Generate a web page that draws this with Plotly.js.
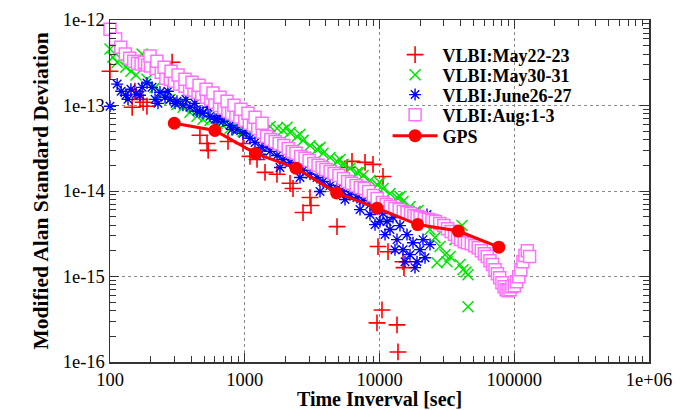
<!DOCTYPE html>
<html><head><meta charset="utf-8">
<script src="https://cdn.plot.ly/plotly-3.0.1.min.js"></script>
<style>html,body{margin:0;padding:0;background:#fff;}#chart{width:693px;height:410px;}</style>
</head><body><div id="chart"></div>
<script>
// VLBI May22-23 (red +)
const redX = [100,146,153,167,176,188,289,279,465,525,535,751,971,1094,1233,1414,1735,2167,2281,3050,3100,2706,4838,5739,6251,7806,8950,10617,9748,11566,14940,15200,10437,9581,13486,13718];
const redY = [2.52e-13,9.53e-14,1.47e-13,1.18e-13,1.09e-13,9.8e-14,3.21e-13,2.59e-13,4.48e-14,3.6e-14,2.99e-14,3.8e-14,3.6e-14,2.54e-14,2.34e-14,1.65e-14,1.57e-14,1.23e-14,1.07e-14,8.38e-15,6.76e-15,5.6e-15,3.83e-15,1.88e-14,2.22e-14,2.16e-14,2.05e-14,1.48e-14,2.24e-15,1.95e-15,1.49e-15,1.27e-15,4.06e-16,2.87e-16,2.72e-16,1.31e-16];

// VLBI May30-31 (green x)
const greenX = [100,105,113,121,131,143,156,173,188,216,247,279,314,348,392,442,490,495,552,622,690,739,777,876,971,1094,1192,1343,1540,1735,1923,2167,2443,2706,3050,3438,3808,4293,4838,5360,6041,6808,7545,8503,9581,10617,11966,13486,14940,16837,18340,19985,21766,23706,25818,28119,26716,30624,31690,33364,36335,40945,39574,41660,43850,45380,45380,2058,2570,3618,5092,7166,10086,14190,19310];
const greenY = [4.57e-13,3.68e-13,3.21e-13,3.49e-13,2.81e-13,2.52e-13,2.27e-13,3.99e-13,2.03e-13,1.63e-13,1.36e-13,1.18e-13,1.03e-13,9.53e-14,8.33e-14,7.48e-14,6.9e-14,1.55e-13,6.7e-14,6.19e-14,5.86e-14,1.09e-13,5.41e-14,5.13e-14,4.98e-14,5.26e-14,6.53e-14,6.19e-14,5.68e-14,5.41e-14,5.13e-14,4.85e-14,4.35e-14,3.91e-14,3.41e-14,3.07e-14,2.76e-14,2.47e-14,2.22e-14,2.05e-14,1.84e-14,1.65e-14,1.52e-14,1.33e-14,1.19e-14,1.07e-14,9.35e-15,8.38e-15,7.53e-15,6.58e-15,5.74e-15,4.89e-15,4.16e-15,3.54e-15,2.85e-15,2.24e-15,1.45e-15,1.80e-15,1.49e-15,1.71e-15,2.70e-15,3.94e-15,1.38e-15,1.2e-15,1.13e-15,1.05e-15,4.42e-16,5.56e-14,4.6e-14,3.24e-14,2.34e-14,1.69e-14,1.26e-14,8.6e-15,5.9e-15];

// VLBI June26-27 (blue *)
const blueX = [100,113,121,131,143,156,173,188,216,235,256,279,314,348,392,442,490,552,622,690,777,876,971,1094,1192,1343,1540,1735,1923,2167,2443,2706,3050,3438,3808,4293,4838,5360,6041,6808,7545,8503,9581,10617,11370,11966,12600,13486,14190,14940,16000,16837,17730,18980,19985,21030,22520,23706,21766,18340,15460,13030,10990,10086,3618,5546,7166,2570,1826,1298,9262,8503,136,167,205,227,269,304,366,427,465,534,601,678,804,1022,1438];
const blueY = [9.8e-14,1.78e-13,1.47e-13,1.32e-13,1.55e-13,1.36e-13,1.63e-13,1.83e-13,1.18e-13,1.43e-13,1.25e-13,1.18e-13,1.12e-13,1.01e-13,9.53e-14,8.56e-14,8.1e-14,7.48e-14,6.9e-14,6.53e-14,5.86e-14,5.26e-14,4.72e-14,4.14e-14,3.7e-14,3.24e-14,2.91e-14,2.6e-14,2.34e-14,2.16e-14,1.96e-14,1.75e-14,1.57e-14,1.44e-14,1.29e-14,1.16e-14,1.07e-14,9.87e-15,9.1e-15,8.38e-15,7.74e-15,6.94e-15,6.23e-15,5.44e-15,4.39e-15,3.54e-15,4.89e-15,2.70e-15,3.94e-15,2.06e-15,3.09e-15,1.80e-15,2.48e-15,1.49e-15,2.06e-15,2.70e-15,5.3e-15,2.36e-15,1.66e-15,1.27e-15,1.49e-15,2.06e-15,3.09e-15,4.39e-15,9.87e-15,7.94e-15,6.06e-15,1.44e-14,1.88e-14,2.69e-14,4.04e-15,5.3e-15,1.18e-13,1.32e-13,1.63e-13,1.06e-13,1.47e-13,1.06e-13,1.18e-13,1.06e-13,8.56e-14,9.53e-14,6.9e-14,7.68e-14,5.26e-14,4.98e-14,3.41e-14];

// VLBI Aug:1-3 (pink squares)
const pinkX = [100,110,120,130,140,150,160,170,180,190,200,220,240,260,280,300,330,360,390,420,450,480,520,560,600,650,700,750,800,860,920,1000,1080,1160,1250,1350,1450,1560,1680,1800,1950,2100,2250,2400,2600,2800,3000,3250,3500,3750,4000,4300,4600,5000,5400,5800,6200,6700,7200,7700,8300,9000,9600,10500,11200,12000,13000,14000,15000,16000,17000,18000,19000,20000,21500,23000,24500,26000,28000,30000,32000,34000,36000,38000,40000,42500,45000,48000,51000,54000,57000,60000,63000,66000,69000,72000,75000,78000,81000,84000,87000,90000,93000,96000,100000,104000,108000,112000,116000,120000,125000,130000,198,223,252,284,320,360,406,458,516,581,655,739,832,938,1057,1192,1343];
const pinkY = [7.8e-13,6.0e-13,4.8e-13,4.0e-13,3.58e-13,3.3e-13,3.13e-13,3.05e-13,3.21e-13,2.97e-13,2.9e-13,2.7e-13,2.45e-13,2.09e-13,2.03e-13,1.92e-13,1.78e-13,1.68e-13,1.55e-13,1.51e-13,1.43e-13,1.36e-13,1.25e-13,1.18e-13,1.09e-13,1.0e-13,9.28e-14,8.56e-14,8.1e-14,7.68e-14,7.27e-14,6.7e-14,6.2e-14,5.86e-14,5.4e-14,4.85e-14,4.35e-14,4.0e-14,3.8e-14,3.6e-14,3.41e-14,3.15e-14,2.9e-14,2.76e-14,2.54e-14,2.41e-14,2.28e-14,2.1e-14,2.0e-14,1.88e-14,1.79e-14,1.69e-14,1.6e-14,1.52e-14,1.40e-14,1.29e-14,1.23e-14,1.16e-14,1.1e-14,1.07e-14,9.87e-15,8.86e-15,8.17e-15,7.33e-15,6.94e-15,6.58e-15,6.23e-15,6.06e-15,5.74e-15,5.59e-15,5.44e-15,5.16e-15,5.02e-15,4.89e-15,4.75e-15,4.63e-15,4.51e-15,4.39e-15,4.16e-15,3.94e-15,3.63e-15,3.35e-15,3.09e-15,2.85e-15,2.70e-15,2.55e-15,2.48e-15,2.42e-15,2.29e-15,2.17e-15,2.0e-15,1.85e-15,1.71e-15,1.53e-15,1.38e-15,1.2e-15,1.08e-15,9.65e-16,8.45e-16,7.58e-16,6.99e-16,6.81e-16,7.0e-16,7.58e-16,7.8e-16,8.68e-16,9.9e-16,1.2e-15,1.49e-15,1.76e-15,2.0e-15,1.71e-15,3.78e-13,3.30e-13,2.81e-13,2.52e-13,2.27e-13,2.03e-13,1.87e-13,1.73e-13,1.55e-13,1.40e-13,1.25e-13,1.12e-13,1.01e-13,9.04e-14,8.1e-14,7.27e-14,6.2e-14];

// GPS
const gpsX = [300,600,1200,2400,4800,9600,19200,38400,76800];
const gpsY = [6.2e-14,5.1e-14,2.75e-14,1.85e-14,9.5e-15,6.3e-15,4.05e-15,3.4e-15,2.2e-15];

// tick labels
const xTickVals = [100,1000,10000,100000,1000000];
const xTickText = ['100','1000','10000','100000','1e+06'];
const yTickVals = [1e-16,1e-15,1e-14,1e-13,1e-12];
const yTickText = ['1e-16','1e-15','1e-14','1e-13','1e-12'];

function minorTicks(lo, hi){
  const out=[];
  for(let e=lo;e<hi;e++){ for(let m=2;m<=9;m++){ out.push(m*Math.pow(10,e)); } }
  return out;
}

const FONT = 'Liberation Serif, Times New Roman, serif';

const traces = [
  {x: redX, y: redY, name: 'VLBI:May22-23', legend: 'legend', mode: 'markers', type: 'scatter', cliponaxis: false,
   marker: {symbol: 'cross-thin-open', size: 12, color: '#ff0000', line: {color: '#ff0000', width: 1.6}}},
  {x: greenX, y: greenY, name: 'VLBI:May30-31', legend: 'legend2', mode: 'markers', type: 'scatter', cliponaxis: false,
   marker: {symbol: 'x-thin-open', size: 11, color: '#00e600', line: {color: '#00e600', width: 1.5}}},
  {x: blueX, y: blueY, name: 'VLBI:June26-27', legend: 'legend3', mode: 'markers', type: 'scatter', cliponaxis: false,
   marker: {symbol: 'asterisk-open', size: 10, color: '#0000ff', line: {color: '#0000ff', width: 1.4}}},
  {x: pinkX, y: pinkY, name: 'VLBI:Aug:1-3', legend: 'legend4', mode: 'markers', type: 'scatter', cliponaxis: false,
   marker: {symbol: 'square', size: 12, color: '#ffffff', line: {color: '#ff70ff', width: 1.5}}},
  {x: gpsX, y: gpsY, name: 'GPS', legend: 'legend5', mode: 'lines+markers', type: 'scatter', cliponaxis: false,
   line: {color: '#ff0000', width: 3}, marker: {symbol: 'circle', size: 13, color: '#ff0000'}}
];

const axisCommon = {
  type: 'log', tickmode: 'array', ticks: 'inside', ticklen: 9, tickwidth: 1, tickcolor: '#333',
  showline: true, linecolor: '#333', linewidth: 1.5, mirror: 'allticks',
  showgrid: true, gridcolor: '#8a8a8a', griddash: 'dot', gridwidth: 1, zeroline: false,
  tickfont: {family: FONT, size: 18.5, color: '#000'}
};

function legendAt(yc){
  return {
    x: 0.515, y: yc, xanchor: 'left', yanchor: 'middle',
    bgcolor: 'rgba(0,0,0,0)', borderwidth: 0, itemwidth: 45,
    font: {family: FONT, size: 18, weight: 'bold', color: '#000'}
  };
}

const layout = {
  width: 693, height: 410,
  margin: {l: 110, r: 44, t: 20, b: 48},
  paper_bgcolor: '#fff', plot_bgcolor: '#fff',
  showlegend: true,
  xaxis: Object.assign({}, axisCommon, {
    range: [2, 6], tickvals: xTickVals, ticktext: xTickText,
    minor: {tickvals: minorTicks(2, 6), ticks: 'inside', ticklen: 6, tickcolor: '#333', showgrid: false},
    title: {text: 'Time Inverval [sec]', standoff: 7, font: {family: FONT, size: 20, weight: 'bold', color: '#000'}}
  }),
  yaxis: Object.assign({}, axisCommon, {
    range: [-16, -12], tickvals: yTickVals, ticktext: yTickText,
    minor: {tickvals: minorTicks(-16, -12), ticks: 'inside', ticklen: 6, tickcolor: '#333', showgrid: false},
    title: {text: 'Modified Alan Standard Deviation', standoff: 8, font: {family: FONT, size: 21.5, weight: 'bold', color: '#000'}}
  }),
  legend: legendAt(0.898),
  legend2: legendAt(0.839),
  legend3: legendAt(0.781),
  legend4: legendAt(0.722),
  legend5: legendAt(0.661)
};

Plotly.newPlot('chart', traces, layout, {displayModeBar: false, staticPlot: true});
</script></body></html>
